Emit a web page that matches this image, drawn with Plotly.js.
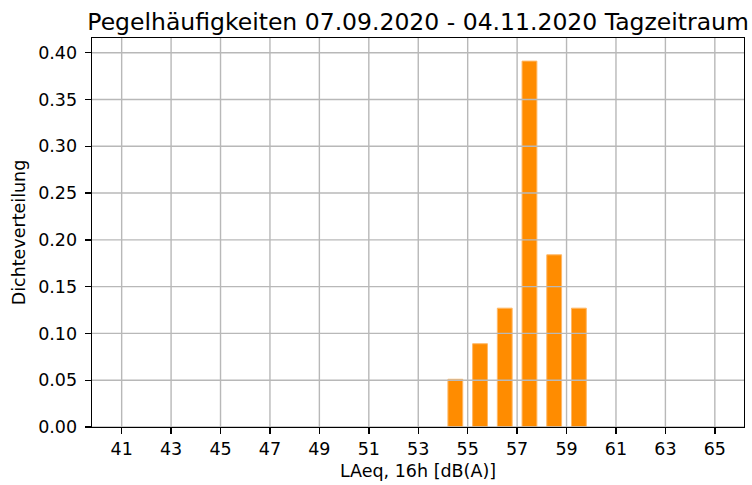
<!DOCTYPE html>
<html>
<head>
<meta charset="utf-8">
<script src="https://cdn.plot.ly/plotly-3.0.1.min.js"></script>
<style>html,body{margin:0;padding:0;background:#fff;}#chart{width:752px;height:485px;}</style>
</head>
<body>
<div id="chart"></div>
<script>
// Data
const binCenters = [54.5, 55.5, 56.5, 57.5, 58.5, 59.5];
const densities = [0.051, 0.089, 0.127, 0.391, 0.184, 0.127];
const xTickVals = [41, 43, 45, 47, 49, 51, 53, 55, 57, 59, 61, 63, 65];
const yTickVals = [0.00, 0.05, 0.10, 0.15, 0.20, 0.25, 0.30, 0.35, 0.40];
const yTickText = ['0.00','0.05','0.10','0.15','0.20','0.25','0.30','0.35','0.40'];

const xRange = [39.8, 66.18];
const yRange = [0, 0.4157];
const gridColor = '#b8b8b8';
const font = 'DejaVu Sans, sans-serif';

const shapes = [];
xTickVals.forEach(v => shapes.push({type:'line', xref:'x', yref:'paper', x0:v, x1:v, y0:0, y1:1, layer:'above', line:{color:gridColor, width:1.4}}));
yTickVals.forEach(v => shapes.push({type:'line', xref:'paper', yref:'y', x0:0, x1:1, y0:v, y1:v, layer:'above', line:{color:gridColor, width:1.4}}));

const trace = {
  type: 'bar',
  x: binCenters,
  y: densities,
  width: 0.6,
  marker: {color: '#ff8c00', line: {color: '#ffb866', width: 1}},
  hoverinfo: 'x+y'
};

const layout = {
  width: 752, height: 485,
  margin: {l: 92, r: 8, t: 38, b: 58, pad: 0},
  paper_bgcolor: '#fff', plot_bgcolor: '#fff',
  font: {family: font, color: '#000', size: 17.5},
  title: {text: 'Pegelhäufigkeiten 07.09.2020 - 04.11.2020 Tagzeitraum', font: {family: font, size: 23.5, color: '#000'}, x: 0.556, xanchor: 'center', y: 0.955, yanchor: 'middle'},
  showlegend: false,
  xaxis: {
    range: xRange, tickvals: xTickVals, ticktext: xTickVals.map(String),
    showgrid: false, zeroline: false,
    showline: true, mirror: true, linecolor: '#000', linewidth: 1.4,
    ticks: 'outside', ticklen: 6, tickwidth: 1.4, tickcolor: '#000',
    tickfont: {family: font, size: 17.5, color: '#000'},
    title: {text: 'LAeq, 16h [dB(A)]', font: {family: font, size: 17.5, color: '#000'}, standoff: 6},
    layer: 'above traces'
  },
  yaxis: {
    range: yRange, tickvals: yTickVals, ticktext: yTickText,
    showgrid: false, zeroline: false,
    showline: true, mirror: true, linecolor: '#000', linewidth: 1.4,
    ticks: 'outside', ticklen: 6, tickwidth: 1.4, tickcolor: '#000',
    tickfont: {family: font, size: 17.5, color: '#000'},
    ticklabelstandoff: 4,
    title: {text: 'Dichteverteilung', font: {family: font, size: 17.5, color: '#000'}, standoff: 8},
    layer: 'above traces'
  },
  shapes: shapes,
  bargap: 0
};

Plotly.newPlot('chart', [trace], layout, {displayModeBar: false, staticPlot: true});
</script>
</body>
</html>
